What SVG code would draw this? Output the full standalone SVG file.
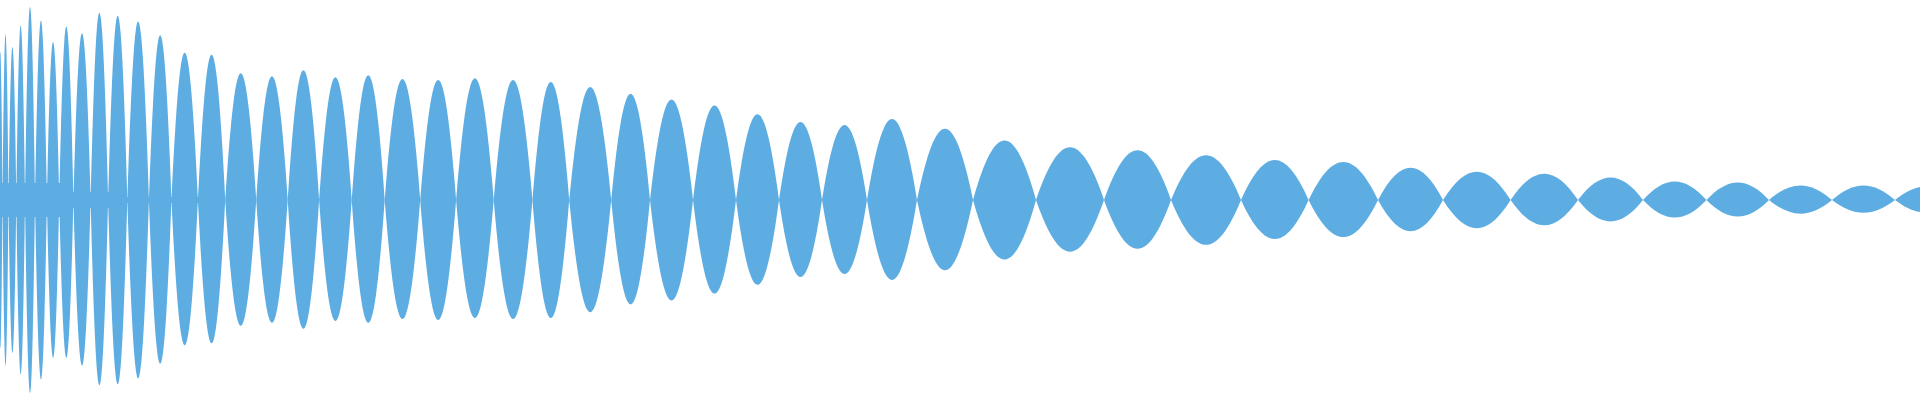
<svg xmlns="http://www.w3.org/2000/svg" width="1920" height="400" viewBox="0 0 1920 400">
<style>.w{fill:#5DADE2;stroke:none}</style>
<rect width="1920" height="400" fill="#ffffff"/>
<g id="wave" class="w">
<rect x="0" y="183" width="60" height="34"/>
<rect x="60" y="192" width="50" height="16"/>
<rect x="110" y="197" width="100" height="6"/>
<path d="M-2,200 C-0.4,2.4 0.9,2.4 2.5,200 C0.9,397.6 -0.4,397.6 -2,200Z"/>
<path d="M2.5,200 C4.6,-21 6.4,-21 8.5,200 C6.4,421 4.6,421 2.5,200Z"/>
<path d="M8.5,200 C11.2,-4.1 13.6,-4.1 16.3,200 C13.6,404.1 11.2,404.1 8.5,200Z"/>
<path d="M16.3,200 C19.3,-32.7 22,-32.7 25,200 C22,432.7 19.3,432.7 16.3,200Z"/>
<path d="M25,200 C28.5,-57.4 31.5,-57.4 35,200 C31.5,457.4 28.5,457.4 25,200Z"/>
<path d="M35,200 C39.2,-39.2 42.7,-39.2 46.9,200 C42.7,439.2 39.2,439.2 35,200Z"/>
<path d="M46.9,200 C51.2,-10.6 54.9,-10.6 59.2,200 C54.9,410.6 51.2,410.6 46.9,200Z"/>
<path d="M59.2,200 C64.2,-31.4 68.4,-31.4 73.4,200 C68.4,410.6 64.2,410.6 59.2,200Z"/>
<path d="M73.4,200 C79.4,-22.3 84.6,-22.3 90.6,200 C84.6,421 79.4,421 73.4,200Z"/>
<path d="M90.6,200 C96.7,-49.6 102,-49.6 108.1,200 C102,447 96.7,447 90.6,200Z"/>
<path d="M108.1,200 C114.8,-45.7 120.6,-45.7 127.3,200 C120.6,445.7 114.8,445.7 108.1,200Z"/>
<path d="M127.3,200 C134.9,-37.9 141.3,-37.9 148.9,200 C141.3,437.9 134.9,437.9 127.3,200Z"/>
<path d="M148.9,200 C156.8,-19.7 163.5,-19.7 171.4,200 C163.5,418.4 156.8,418.4 148.9,200Z"/>
<path d="M171.4,200 C180.7,3.7 188.6,3.7 197.9,200 C188.6,393.7 180.7,393.7 171.4,200Z"/>
<path d="M197.9,200 C207.5,6.3 215.6,6.3 225.2,200 C215.6,391.1 207.5,391.1 197.9,200Z"/>
<path d="M225.2,200 C236.1,31 245.4,31 256.2,200 C245.4,367.7 236.1,367.7 225.2,200Z"/>
<path d="M256.2,200 C267.2,34.9 276.7,34.9 287.7,200 C276.7,363.8 267.2,363.8 256.2,200Z"/>
<path d="M287.7,200 C298.7,27.1 308.1,27.1 319.1,200 C308.1,371.6 298.7,371.6 287.7,200Z"/>
<path d="M319.1,200 C330.5,36.2 340.3,36.2 351.7,200 C340.3,361.2 330.5,361.2 319.1,200Z"/>
<path d="M351.7,200 C363.3,33.6 373.2,33.6 384.7,200 C373.2,363.8 363.3,363.8 351.7,200Z"/>
<path d="M384.7,200 C397.1,38.8 407.8,38.8 420.2,200 C407.8,358.6 397.1,358.6 384.7,200Z"/>
<path d="M420.2,200 C432.8,40.1 443.5,40.1 456.1,200 C443.5,359.9 432.8,359.9 420.2,200Z"/>
<path d="M456.1,200 C469.3,37.5 480.5,37.5 493.7,200 C480.5,357.3 469.3,357.3 456.1,200Z"/>
<path d="M493.7,200 C507.2,40.1 518.9,40.1 532.4,200 C518.9,358.6 507.2,358.6 493.7,200Z"/>
<path d="M532.4,200 C545.3,42.7 556.3,42.7 569.2,200 C556.3,357.3 545.3,357.3 532.4,200Z"/>
<path d="M569.2,200 C583.9,49.2 596.5,49.2 611.2,200 C596.5,349.5 583.9,349.5 569.2,200Z"/>
<path d="M611.2,200 C624.8,58.3 636.4,58.3 650,200 C636.4,339.1 624.8,339.1 611.2,200Z"/>
<path d="M650,200 C665.1,66.1 677.9,66.1 693,200 C677.9,333.9 665.1,333.9 650,200Z"/>
<path d="M693,200 C708.1,73.9 720.9,73.9 736,200 C720.9,324.8 708.1,324.8 693,200Z"/>
<path d="M736,200 C751.1,85.6 763.9,85.6 779,200 C763.9,313.1 751.1,313.1 736,200Z"/>
<path d="M779,200 C794.1,96 806.9,96 822,200 C806.9,302.7 794.1,302.7 779,200Z"/>
<path d="M822,200 C837.8,99.9 851.3,99.9 867,200 C851.3,298.8 837.8,298.8 822,200Z"/>
<path d="M867,200 C884.5,92.1 899.5,92.1 917,200 C899.5,306.6 884.5,306.6 867,200Z"/>
<path d="M917,200 C936.6,105.1 953.4,105.1 973,200 C953.4,293.6 936.6,293.6 917,200Z"/>
<path d="M973,200 C995.1,120.7 1013.9,120.7 1036,200 C1013.9,279.3 995.1,279.3 973,200Z"/>
<path d="M1036,200 C1059.8,129.8 1080.2,129.8 1104,200 C1080.2,268.9 1059.8,268.9 1036,200Z"/>
<path d="M1104,200 C1127.5,133.7 1147.6,133.7 1171,200 C1147.6,265 1127.5,265 1104,200Z"/>
<path d="M1171,200 C1195.5,140.2 1216.5,140.2 1241,200 C1216.5,259.8 1195.5,259.8 1171,200Z"/>
<path d="M1241,200 C1264.7,146.7 1284.9,146.7 1308.6,200 C1284.9,252 1264.7,252 1241,200Z"/>
<path d="M1308.6,200 C1332.9,149.3 1353.7,149.3 1378,200 C1353.7,249.4 1332.9,249.4 1308.6,200Z"/>
<path d="M1378,200 C1400.8,157.1 1420.3,157.1 1443,200 C1420.3,241.6 1400.8,241.6 1378,200Z"/>
<path d="M1443,200 C1466.7,162.3 1486.9,162.3 1510.6,200 C1486.9,237.7 1466.7,237.7 1443,200Z"/>
<path d="M1510.6,200 C1534.2,164.9 1554.4,164.9 1578,200 C1554.4,233.8 1534.2,233.8 1510.6,200Z"/>
<path d="M1578,200 C1600.8,170.1 1620.3,170.1 1643,200 C1620.3,228.6 1600.8,228.6 1578,200Z"/>
<path d="M1643,200 C1665.2,175.3 1684.3,175.3 1706.5,200 C1684.3,223.4 1665.2,223.4 1643,200Z"/>
<path d="M1706.5,200 C1728.4,176.6 1747.1,176.6 1769,200 C1747.1,222.1 1728.4,222.1 1706.5,200Z"/>
<path d="M1769,200 C1791.1,180.5 1809.9,180.5 1832,200 C1809.9,218.2 1791.1,218.2 1769,200Z"/>
<path d="M1832,200 C1854.1,180.5 1872.9,180.5 1895,200 C1872.9,216.9 1854.1,216.9 1832,200Z"/>
<path d="M1895,200 C1917.1,181.8 1935.9,181.8 1958,200 C1935.9,216.9 1917.1,216.9 1895,200Z"/>
</g>
</svg>
